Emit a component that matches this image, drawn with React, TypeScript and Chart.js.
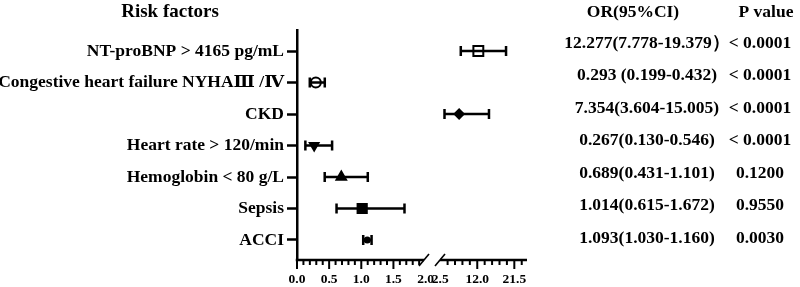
import React, { useEffect, useRef } from 'react';
import { Chart, registerables } from 'chart.js';

Chart.register(...registerables);

// ---- data ----
const factors = [
  'NT-proBNP > 4165 pg/mL',
  'Congestive heart failure NYHAⅢ /Ⅳ',
  'CKD',
  'Heart rate > 120/min',
  'Hemoglobin < 80 g/L',
  'Sepsis',
  'ACCI',
];
const orValues = [12.277, 0.293, 7.354, 0.267, 0.689, 1.014, 1.093];
const ciLow = [7.778, 0.199, 3.604, 0.13, 0.431, 0.615, 1.03];
const ciHigh = [19.379, 0.432, 15.005, 0.546, 1.101, 1.672, 1.16];
const orLabels = [
  '12.277(7.778-19.379）',
  '0.293 (0.199-0.432)',
  '7.354(3.604-15.005)',
  '0.267(0.130-0.546)',
  '0.689(0.431-1.101)',
  '1.014(0.615-1.672)',
  '1.093(1.030-1.160)',
];
const pValues = ['< 0.0001', '< 0.0001', '< 0.0001', '< 0.0001', '0.1200', '0.9550', '0.0030'];
const segment = ['high', 'low', 'high', 'low', 'low', 'low', 'low'];
const lowTicks = [0, 0.5, 1.0, 1.5, 2.0];
const highTicks = [2.5, 12.0, 21.5];
const lowMinorStep = 0.1;
const highMinorStep = 1.9;

// ---- styles ----
const FONT = "'Liberation Serif', 'Times New Roman', 'DejaVu Serif', serif";
const markerStyle = ['rect', 'circle', 'rectRot', 'triangle', 'triangle', 'rect', 'circle'];
const markerFilled = [false, false, true, true, true, true, true];
const markerRadius = [7, 5, 4.5, 5, 5.5, 6.5, 2.5];
const markerRotation = [0, 0, 0, 180, 0, 0, 0];

const n = factors.length;
const rowValue = (i: number) => n - i;
const axisFor = (i: number) => (segment[i] === 'high' ? 'x2' : 'x');

const forestPlugin = {
  id: 'forest',
  beforeDatasetsDraw(chart: any) {
    const ctx = chart.ctx;
    const y = chart.scales.y;
    ctx.save();
    ctx.strokeStyle = '#000';
    ctx.lineWidth = 2.5;
    for (let i = 0; i < n; i++) {
      const xs = chart.scales[axisFor(i)];
      const py = y.getPixelForValue(rowValue(i));
      const x1 = xs.getPixelForValue(ciLow[i]);
      const x2 = xs.getPixelForValue(ciHigh[i]);
      ctx.beginPath();
      ctx.moveTo(x1, py);
      ctx.lineTo(x2, py);
      ctx.moveTo(x1, py - 5);
      ctx.lineTo(x1, py + 5);
      ctx.moveTo(x2, py - 5);
      ctx.lineTo(x2, py + 5);
      ctx.stroke();
    }
    ctx.restore();
  },
  afterDraw(chart: any) {
    const ctx = chart.ctx;
    const { left, right, bottom } = chart.chartArea;
    const xl = chart.scales.x;
    const xr = chart.scales.x2;
    const y = chart.scales.y;
    const boundary = xl.right;
    const breakL = boundary - 8;
    const breakR = boundary + 8;
    ctx.save();
    ctx.strokeStyle = '#000';
    ctx.lineWidth = 2.5;
    ctx.beginPath();
    ctx.moveTo(left - 1.25, bottom);
    ctx.lineTo(breakL, bottom);
    ctx.moveTo(breakR, bottom);
    ctx.lineTo(right, bottom);
    ctx.stroke();
    // break slashes
    ctx.lineWidth = 1.6;
    for (const bx of [breakL, breakR]) {
      ctx.beginPath();
      ctx.moveTo(bx - 5, bottom + 6);
      ctx.lineTo(bx + 5, bottom - 6);
      ctx.stroke();
    }
    // tick marks
    ctx.lineWidth = 2;
    const tick = (px: number, len: number) => {
      ctx.beginPath();
      ctx.moveTo(px, bottom);
      ctx.lineTo(px, bottom + len);
      ctx.stroke();
    };
    for (const v of lowTicks) {
      const px = xl.getPixelForValue(v);
      if (px < breakL - 2) tick(px, 9);
    }
    for (let k = 1; k * lowMinorStep < xl.max; k++) {
      if (k % 5 === 0) continue;
      const px = xl.getPixelForValue(k * lowMinorStep);
      if (px < breakL - 2) tick(px, 5);
    }
    for (const v of highTicks) {
      const px = xr.getPixelForValue(v);
      if (px > breakR + 2 && px <= right) tick(px, 9);
    }
    for (let k = -2; highTicks[0] + k * highMinorStep < xr.max; k++) {
      if (k % 5 === 0) continue;
      const px = xr.getPixelForValue(highTicks[0] + k * highMinorStep);
      if (px > breakR + 2 && px <= right) tick(px, 5);
    }
    // texts
    ctx.fillStyle = '#000';
    ctx.textBaseline = 'middle';
    ctx.textAlign = 'center';
    ctx.font = `bold 19px ${FONT}`;
    ctx.fillText('Risk factors', 170, 12);
    ctx.font = `bold 17.5px ${FONT}`;
    ctx.fillText('OR(95%CI)', 633, 12);
    ctx.fillText('P value', 766, 12);
    const yTop = y.getPixelForValue(rowValue(0)) - 8;
    const yBot = y.getPixelForValue(rowValue(n - 1)) - 2;
    for (let i = 0; i < n; i++) {
      const ty = yTop + ((yBot - yTop) * i) / (n - 1);
      ctx.fillText(orLabels[i], 647, ty);
      ctx.fillText(pValues[i], 760, ty);
    }
    ctx.restore();
  },
};

export default function App() {
  const canvasRef = useRef<HTMLCanvasElement | null>(null);

  useEffect(() => {
    if (!canvasRef.current) return;
    const xTickFont = { family: FONT, size: 13.5, weight: 'bold' as const };
    const datasets = factors.map((f, i) => ({
      label: f,
      data: [{ x: orValues[i], y: rowValue(i) }],
      xAxisID: axisFor(i),
      yAxisID: 'y',
      pointStyle: markerStyle[i],
      pointRadius: markerRadius[i],
      pointHoverRadius: markerRadius[i],
      pointRotation: markerRotation[i],
      pointBackgroundColor: markerFilled[i] ? '#000' : 'rgba(0,0,0,0)',
      pointBorderColor: '#000',
      pointBorderWidth: 2,
      showLine: false,
    }));
    const chart = new Chart(canvasRef.current, {
      type: 'scatter',
      data: { datasets },
      plugins: [forestPlugin],
      options: {
        animation: false,
        responsive: false,
        events: [],
        layout: { padding: { left: 0, top: 30, right: 273, bottom: 0 } },
        plugins: { legend: { display: false }, tooltip: { enabled: false } },
        scales: {
          x: {
            type: 'linear',
            position: 'bottom',
            stack: 'xs',
            stackWeight: 135,
            min: 0,
            max: 2.1,
            afterBuildTicks: (s: any) => {
              s.ticks = lowTicks.map((v) => ({ value: v }));
            },
            afterFit: (s: any) => {
              s.height = 27;
            },
            ticks: {
              callback: (v: any) => Number(v).toFixed(1),
              autoSkip: false,
              maxRotation: 0,
              padding: 11,
              font: xTickFont,
              color: '#000',
            },
            grid: { display: false, drawTicks: false },
            border: { display: false },
          },
          x2: {
            type: 'linear',
            position: 'bottom',
            stack: 'xs',
            stackWeight: 95,
            min: 0.4,
            max: 24.75,
            afterBuildTicks: (s: any) => {
              s.ticks = highTicks.map((v) => ({ value: v }));
            },
            afterFit: (s: any) => {
              s.height = 27;
            },
            ticks: {
              callback: (v: any) => Number(v).toFixed(1),
              autoSkip: false,
              maxRotation: 0,
              padding: 11,
              font: xTickFont,
              color: '#000',
            },
            grid: { display: false, drawTicks: false },
            border: { display: false },
          },
          y: {
            type: 'linear',
            position: 'left',
            min: 0.365,
            max: 7.667,
            afterBuildTicks: (s: any) => {
              s.ticks = factors.map((_, i) => ({ value: rowValue(i) }));
            },
            afterFit: (s: any) => {
              s.width = 297;
            },
            ticks: {
              callback: (v: any) => factors[n - Number(v)],
              autoSkip: false,
              padding: 3,
              font: { family: FONT, size: 17.5, weight: 'bold' },
              color: '#000',
            },
            grid: {
              display: true,
              drawOnChartArea: false,
              drawTicks: true,
              tickLength: 10,
              tickWidth: 2.5,
              tickColor: '#000',
            },
            border: { display: true, color: '#000', width: 2.5 },
          },
        },
      } as any,
    });
    return () => chart.destroy();
  }, []);

  return (
    <div style={{ position: 'absolute', left: 0, top: 0, width: 800, height: 287, background: '#fff' }}>
      <canvas ref={canvasRef} width={800} height={287} style={{ display: 'block' }} />
    </div>
  );
}
